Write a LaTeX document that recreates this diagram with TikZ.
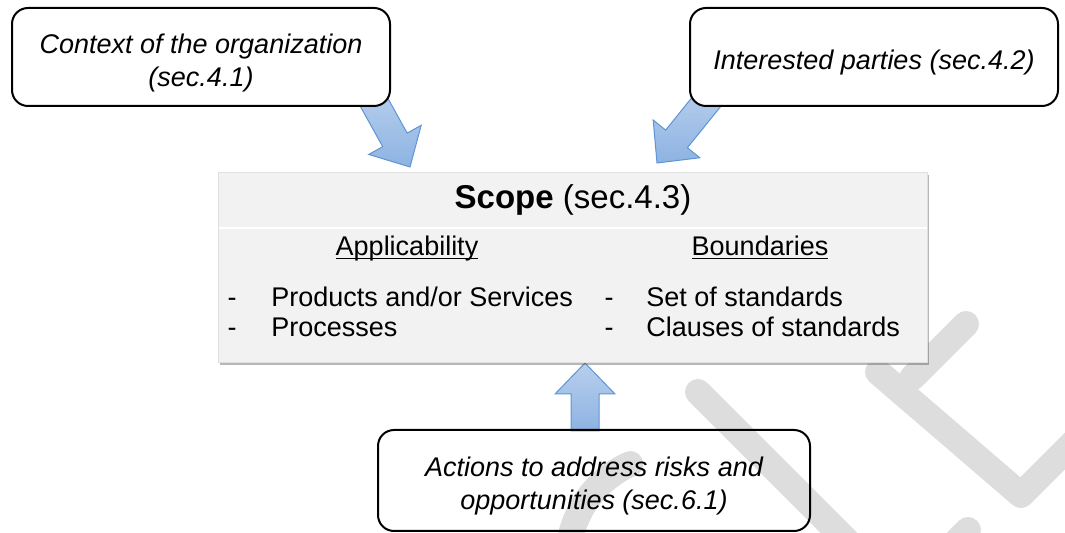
\documentclass[tikz,border=0pt]{standalone}
\usepackage{fontspec}
\setmainfont{Liberation Sans}
\usetikzlibrary{calc,shadows}
\definecolor{wmgray}{RGB}{221,221,221}
\definecolor{scopefill}{RGB}{242,242,242}
\definecolor{arrowtop}{RGB}{184,207,237}
\definecolor{arrowbottom}{RGB}{141,179,226}
\definecolor{arrowline}{RGB}{94,149,212}

% fat block arrow from #1 (tail) to #2 (tip)
\newcommand{\blockarrow}[2]{%
  \coordinate (neck) at ($(#2)!15.5pt!(#1)$);
  \path[flow] ($(#1)!7pt!90:(#2)$) -- ($(neck)!7pt!90:(#2)$) -- ($(neck)!15pt!90:(#2)$) -- (#2)
    -- ($(neck)!15pt!-90:(#2)$) -- ($(neck)!7pt!-90:(#2)$) -- ($(#1)!7pt!-90:(#2)$) -- cycle;}
% underline that ignores descenders
\newcommand{\headline}[1]{\underline{\vphantom{A}\smash{#1}}}

\tikzset{
  flow/.style={draw=arrowline,line width=0.5pt,top color=arrowtop,bottom color=arrowbottom},
  infobox/.style={draw=black,line width=1pt,rounded corners=8pt,inner sep=0pt},
  infotext/.style={align=center,inner sep=0pt,font=\fontsize{13.5}{16.5}\selectfont\itshape},
  bodytext/.style={inner sep=0pt,font=\fontsize{13.5}{15}\selectfont},
  watermark/.style={wmgray,line width=13pt,line cap=round,line join=round}
}

\begin{document}
\begin{tikzpicture}[x=0.5pt,y=-0.5pt]
  \useasboundingbox (0,0) rectangle (1065,533);

  % watermark strokes
  \draw[watermark] (698,392) -- (860,554);
  \draw[watermark] (966,324) -- (912,378);
  \draw[watermark] (878,372) -- (1021,495) -- (1080,436);
  \draw[watermark] (968,530) -- (940,558);
  \draw[watermark] (568.4,550.8) arc[start angle=185,end angle=246,radius=105];

  % arrow ends
  \coordinate (ctx tail) at (370,95);
  \coordinate (ctx tip) at (410,167);
  \coordinate (party tail) at (712,95);
  \coordinate (party tip) at (657,163);
  \coordinate (action tail) at (585,431);
  \coordinate (action tip) at (585,363);

  \blockarrow{ctx tail}{ctx tip}
  \blockarrow{party tail}{party tip}
  \blockarrow{action tail}{action tip}

  \foreach \n/\x/\y/\w/\h/\f/\t in {
    ctx/201/57/189/49/white/{Context of the organization\\(sec.4.1)},
    party/874/57/184/49/white/{Interested parties (sec.4.2)},
    action/594/480.5/216/50.5/none/{Actions to address risks and\\opportunities (sec.6.1)}}
  {
    \node[infobox,fill=\f,minimum width=\w pt,minimum height=\h pt] (\n) at (\x,\y) {};
    \node[infotext] (\n text) at ([yshift=-2.8pt]\n.center) {\t};
  }

  % scope box
  \node[fill=scopefill,draw=gray!25,line width=0.4pt,minimum width=354.5pt,minimum height=95pt,
    drop shadow={shadow xshift=1.2pt,shadow yshift=-1.4pt,opacity=0.4,fill=black!70}] (scope) at (572.5,267) {};
  \draw[white,line width=1pt] (218.5,228) -- (926.5,228);
  \node[inner sep=0pt,font=\fontsize{16.5}{20}\selectfont] (title) at (573,200) {\textbf{Scope} (sec.4.3)};

  \node[bodytext] (applic) at (407,248) {\headline{Applicability}};
  \node[bodytext] (bound) at (760,248) {\headline{Boundaries}};

  \foreach \t [count=\i] in {Products and/or Services,Processes}
  {
    \node[bodytext,anchor=base] at (232,276.5+30*\i) {-};
    \node[bodytext,anchor=base west] (app\i) at (271,276.5+30*\i) {\t};
  }
  \foreach \t [count=\i] in {Set of standards,Clauses of standards}
  {
    \node[bodytext,anchor=base] at (609,276.5+30*\i) {-};
    \node[bodytext,anchor=base west] (bnd\i) at (646,276.5+30*\i) {\t};
  }
\end{tikzpicture}
\end{document}
